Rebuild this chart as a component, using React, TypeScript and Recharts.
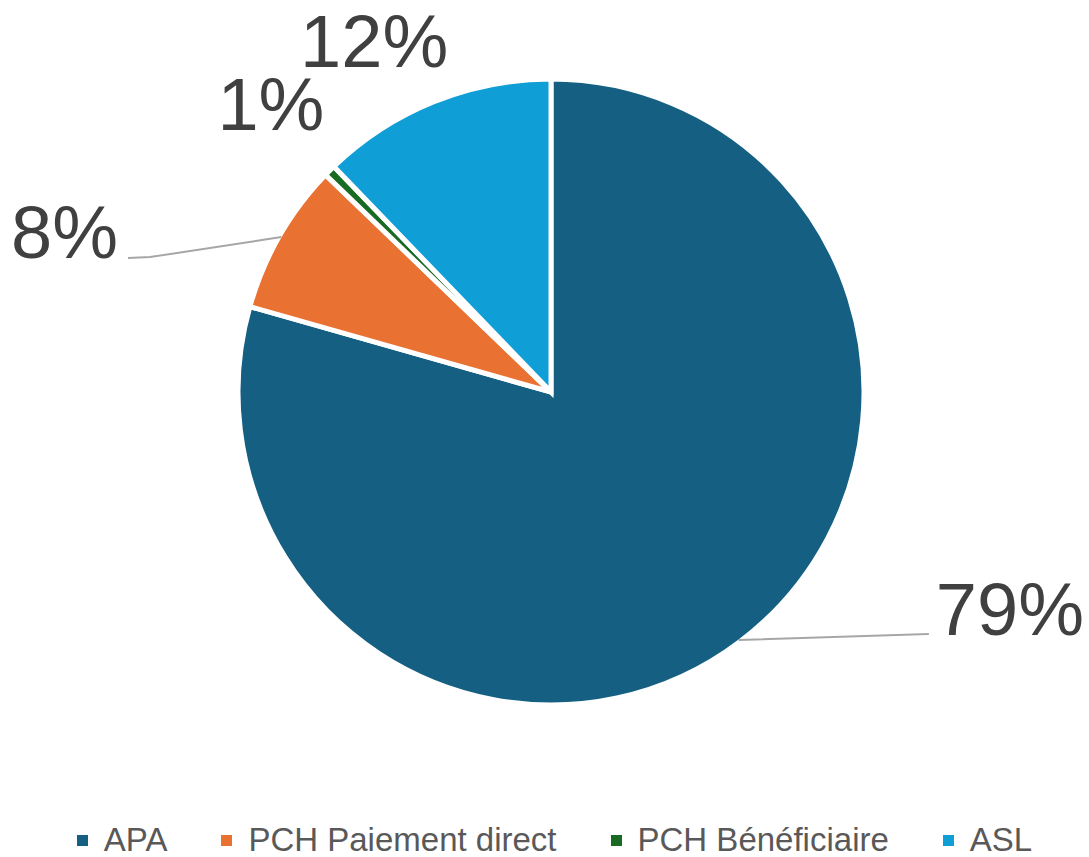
import React from "react";
import { PieChart, Pie, Cell, Legend } from "recharts";

const categories = ["APA", "PCH Paiement direct", "PCH Bénéficiaire", "ASL"];
const values = [79.4, 7.8, 0.6, 12.2];
const colors = ["#156082", "#E97132", "#196B24", "#0F9ED5"];

// where each label sits, relative to the pie centre, in units of the radius
const labelPlaces = [
  { dx: 1.204, dy: 0.773, anchor: "start", leader: true },
  { dx: -1.281, dy: -0.431, anchor: "end", leader: true },
  { dx: -0.895, dy: -0.837, anchor: "middle", leader: false },
  { dx: -0.565, dy: -1.038, anchor: "middle", leader: false },
];

const data = categories.map((name, i) => ({ name, value: values[i] }));

const RAD = Math.PI / 180;
const labelFont = "'Liberation Sans', Arial, sans-serif";

const renderLabel = (props: any) => {
  const { cx, cy, midAngle, outerRadius, index, percent } = props;
  const place = labelPlaces[index];
  const text = `${Math.round(percent * 100)}%`;
  const ax = cx + place.dx * outerRadius;
  const ay = cy + place.dy * outerRadius;
  const ex = cx + (outerRadius - 2) * Math.cos(-midAngle * RAD);
  const ey = cy + (outerRadius - 2) * Math.sin(-midAngle * RAD);

  if (!place.leader) {
    return (
      <text x={ax} y={ay} textAnchor="middle" fill="#404040" fontSize={74} fontFamily={labelFont}>
        {text}
      </text>
    );
  }
  const isRight = place.anchor === "start";
  const tail = isRight ? ax : ax - 22;
  return (
    <g>
      <polyline
        points={`${ex},${ey} ${ax},${ay} ${tail},${ay + 1}`}
        fill="none"
        stroke="#A6A6A6"
        strokeWidth={2}
      />
      <text
        x={isRight ? ax + 8 : tail - 10}
        y={ay + 1}
        textAnchor={place.anchor as any}
        fill="#404040"
        fontSize={74}
        fontFamily={labelFont}
      >
        {text}
      </text>
    </g>
  );
};

const renderLegend = () => (
  <div
    style={{
      display: "flex",
      justifyContent: "center",
      gap: 54,
      fontFamily: labelFont,
      fontSize: 33,
      color: "#595959",
      paddingLeft: 20,
    }}
  >
    {categories.map((c, i) => (
      <div key={c} style={{ display: "flex", alignItems: "center" }}>
        <span
          style={{
            display: "inline-block",
            width: 11,
            height: 11,
            background: colors[i],
            marginRight: 16,
          }}
        />
        <span>{c}</span>
      </div>
    ))}
  </div>
);

export default function App() {
  return (
    <div style={{ position: "absolute", left: 0, top: 0, background: "#fff" }}>
      <PieChart width={1089} height={857} margin={{ top: 0, right: 0, bottom: 0, left: 0 }}>
        <Pie
          data={data}
          dataKey="value"
          nameKey="name"
          cx={551}
          cy={392}
          outerRadius={313}
          startAngle={90}
          endAngle={-270}
          stroke="#ffffff"
          strokeWidth={5}
          label={renderLabel}
          labelLine={false}
          isAnimationActive={false}
        >
          {data.map((d, i) => (
            <Cell key={d.name} fill={colors[i]} />
          ))}
        </Pie>
        <Legend
          content={renderLegend}
          wrapperStyle={{ position: "absolute", left: 0, top: 821, width: 1089 }}
        />
      </PieChart>
    </div>
  );
}
